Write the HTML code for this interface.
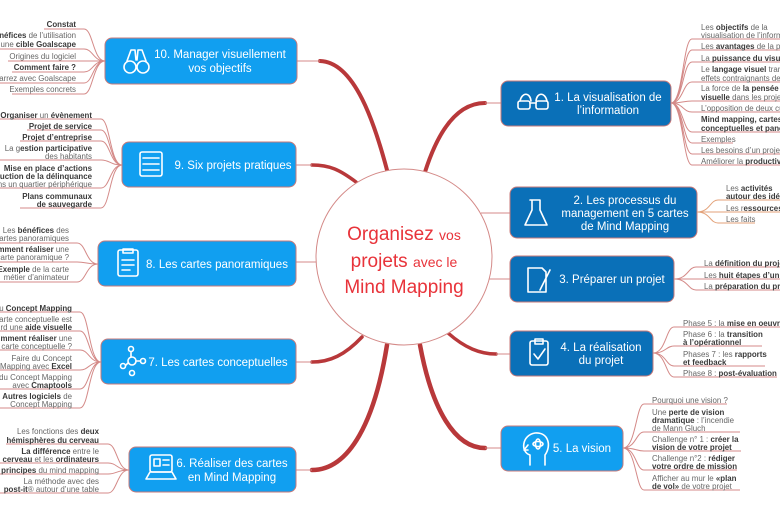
<!DOCTYPE html>
<html><head><meta charset="utf-8"><style>
html,body{margin:0;padding:0;background:#fff;width:780px;height:516px;overflow:hidden}
svg{display:block;font-family:"Liberation Sans",sans-serif}
.l{font-size:7.9px;fill:#666}
.l tspan.b{font-weight:bold;fill:#3a3a3a}
.r{text-anchor:end}
.nt{font-size:11.5px;fill:#fff;text-anchor:middle}
.ln{fill:none;stroke:#d48a88;stroke-width:1}
.th{fill:none;stroke:#b8383a;stroke-linecap:round}
.ic{fill:none;stroke:#fff;stroke-width:1.6;stroke-linecap:round;stroke-linejoin:round}
</style></head><body>
<svg width="780" height="516" viewBox="0 0 780 516">
<!-- main branches -->
<path class="th" stroke-width="4" d="M387,170 C375,125 355,62 320,61"/><path class="ln" d="M320,61 H297"/>
<path class="th" stroke-width="3.5" d="M356,182 C340,170 330,165 312,165"/><path class="ln" d="M312,165 H296"/>
<path class="ln" d="M316,262 H296"/>
<path class="th" stroke-width="3.5" d="M362,337 C345,355 330,362 312,362"/><path class="ln" d="M312,362 H296"/>
<path class="th" stroke-width="4.5" d="M387,345 C375,420 350,470 312,470"/><path class="ln" d="M312,470 H296"/>
<path class="th" stroke-width="4" d="M425,172 C440,125 460,103 485,103"/><path class="ln" d="M485,103 H501"/>
<path class="ln" d="M481,213 H510"/>
<path class="ln" d="M488,279 H510"/>
<path class="th" stroke-width="3.5" d="M448,333 C465,348 480,354 496,354"/><path class="ln" d="M496,354 H510"/>
<path class="th" stroke-width="4.5" d="M420,345 C432,410 455,448 485,448"/><path class="ln" d="M485,448 H501"/>
<!-- center -->
<circle cx="404" cy="257" r="88" fill="#fff" stroke="#d48a88" stroke-width="1"/>
<g fill="#e8333a" text-anchor="middle" font-family="Liberation Sans,sans-serif">
<text x="404" y="240" font-size="19">Organisez <tspan font-size="14">vos</tspan></text>
<text x="404" y="267" font-size="19">projets <tspan font-size="14">avec le</tspan></text>
<text x="404" y="293" font-size="19">Mind Mapping</text>
</g>
<!-- nodes -->
<rect x="105" y="38" width="192" height="46" rx="7" fill="#119ff0" stroke="#c87a7a"/>
<rect x="122" y="142" width="174" height="45" rx="7" fill="#119ff0" stroke="#c87a7a"/>
<rect x="98" y="241" width="198" height="45" rx="7" fill="#119ff0" stroke="#c87a7a"/>
<rect x="101" y="339" width="195" height="45" rx="7" fill="#119ff0" stroke="#c87a7a"/>
<rect x="129" y="447" width="167" height="45" rx="7" fill="#119ff0" stroke="#c87a7a"/>
<rect x="501" y="81" width="170" height="45" rx="7" fill="#0a70b8" stroke="#c87a7a"/>
<rect x="510" y="187" width="187" height="51" rx="7" fill="#0a70b8" stroke="#c87a7a"/>
<rect x="510" y="256" width="164" height="46" rx="7" fill="#0a70b8" stroke="#c87a7a"/>
<rect x="510" y="331" width="143" height="45" rx="7" fill="#0a70b8" stroke="#c87a7a"/>
<rect x="501" y="426" width="122" height="45" rx="7" fill="#119ff0" stroke="#c87a7a"/>
<text class="nt" x="220" y="58">10. Manager visuellement</text><text class="nt" x="220" y="72">vos objectifs</text>
<text class="nt" x="233" y="169">9. Six projets pratiques</text>
<text class="nt" x="217" y="268">8. Les cartes panoramiques</text>
<text class="nt" x="218" y="366">7. Les cartes conceptuelles</text>
<text class="nt" x="232" y="467">6. Réaliser des cartes</text><text class="nt" x="232" y="481">en Mind Mapping</text>
<text class="nt" x="608" y="101">1. La visualisation de</text><text class="nt" x="608" y="114">l’information</text>
<text class="nt" x="625" y="204">2. Les processus du</text><text class="nt" x="625" y="217">management en 5 cartes</text><text class="nt" x="625" y="230">de Mind Mapping</text>
<text class="nt" x="612" y="283">3. Préparer un projet</text>
<text class="nt" x="601" y="351">4. La réalisation</text><text class="nt" x="601" y="364">du projet</text>
<text class="nt" x="582" y="452">5. La vision</text>
<!-- icons -->
<g class="ic">
<circle cx="130" cy="67" r="6"/><circle cx="143" cy="67" r="6"/><path d="M127,61 L131,50 H135 L136,60 M146,61 L142,50 H138 L137,60"/>
<rect x="140" y="152" width="22" height="24" rx="2"/><path d="M143,158 H159 M143,164 H159 M143,170 H159"/>
<rect x="118" y="250" width="20" height="26" rx="2"/><path d="M123,249 H133 V253 H123Z M122,260 H134 M122,265 H134 M122,270 H130"/>
<circle cx="132" cy="361" r="4"/><circle cx="131" cy="349" r="2.5"/><circle cx="143" cy="361" r="2.5"/><circle cx="123" cy="366" r="2.5"/><circle cx="132" cy="373" r="2.5"/><path d="M131,352 V357 M136,361 H140 M126,365 L128,363"/>
<rect x="150" y="455" width="22" height="17" rx="2"/><path d="M146,479 H176 L172,472 H150Z M154,459 H160 V466 H154Z M163,460 H169 M163,465 H169"/>
<path d="M520,101 C522,92 530,92 531,101 M536,101 C537,92 545,92 547,101"/><rect x="518" y="101" width="12" height="8" rx="2"/><rect x="536" y="101" width="12" height="8" rx="2"/><path d="M530,103 H536"/>
<path d="M530,200 H540 M532,200 V210 L525,225 H547 L540,210 V200"/>
<path d="M528,268 H542 L546,272 V292 H528Z M540,290 L550,270"/>
<rect x="530" y="341" width="18" height="24" rx="2"/><path d="M535,339 H543 V344 H535Z M534,354 L538,359 L545,349"/>
<path d="M530,465 V455 C520,452 522,435 535,433 C548,432 552,445 545,455 V465 M528,445 L524,450 H528"/><ellipse cx="538" cy="444" rx="5" ry="2.5"/><ellipse cx="538" cy="444" rx="2.5" ry="5"/>
</g>
<!-- node 10 leaves -->
<path class="ln" d="M44,29 H84 C93,29 93,61 105,61 M0,49 H84 C93,49 93,61 105,61 M8,61 H105 M12,72 H84 C93,72 93,61 105,61 M0,83 H84 C93,83 93,61 105,61 M12,94 H84 C93,94 93,61 105,61"/>
<text class="l r" x="76" y="27"><tspan class="b">Constat</tspan></text>
<text class="l r" x="76" y="38"><tspan class="b">néfices</tspan> de l’utilisation</text>
<text class="l r" x="76" y="47">d’une <tspan class="b">cible Goalscape</tspan></text>
<text class="l r" x="76" y="59">Origines du logiciel</text>
<text class="l r" x="76" y="70"><tspan class="b">Comment faire ?</tspan></text>
<text class="l r" x="76" y="81">marrez avec Goalscape</text>
<text class="l r" x="76" y="92">Exemples concrets</text>
<!-- node 9 -->
<path class="ln" d="M0,119 H101 C110,119 110,165 122,165 M27,130 H101 C110,130 110,165 122,165 M20,141 H101 C110,141 110,165 122,165 M0,160 H101 C110,160 110,165 122,165 M0,188 H101 C110,188 110,165 122,165 M20,208 H101 C110,208 110,165 122,165"/>
<text class="l r" x="92" y="118"><tspan class="b">Organiser</tspan> un <tspan class="b">évènement</tspan></text>
<text class="l r" x="92" y="129"><tspan class="b">Projet de service</tspan></text>
<text class="l r" x="92" y="140"><tspan class="b">Projet d’entreprise</tspan></text>
<text class="l r" x="92" y="151">La g<tspan class="b">estion participative</tspan></text>
<text class="l r" x="92" y="159">des habitants</text>
<text class="l r" x="92" y="171"><tspan class="b">Mise en place d’actions</tspan></text>
<text class="l r" x="92" y="179"><tspan class="b">uction de la délinquance</tspan></text>
<text class="l r" x="92" y="187">ns un quartier périphérique</text>
<text class="l r" x="92" y="199"><tspan class="b">Plans communaux</tspan></text>
<text class="l r" x="92" y="207"><tspan class="b">de sauvegarde</tspan></text>
<!-- node 8 -->
<path class="ln" d="M0,243 H77 C86,243 86,264 98,264 M0,262 H77 C86,262 86,264 98,264 M0,282 H77 C86,282 86,264 98,264"/>
<text class="l r" x="69" y="233">Les <tspan class="b">bénéfices</tspan> des</text>
<text class="l r" x="69" y="241">cartes panoramiques</text>
<text class="l r" x="69" y="252"><tspan class="b">mment réaliser</tspan> une</text>
<text class="l r" x="69" y="260">carte panoramique ?</text>
<text class="l r" x="69" y="272"><tspan class="b">Exemple</tspan> de la carte</text>
<text class="l r" x="69" y="280">métier d’animateur</text>
<!-- node 7 -->
<path class="ln" d="M0,312 H80 C89,312 89,362 101,362 M0,331 H80 C89,331 89,362 101,362 M0,350 H80 C89,350 89,362 101,362 M0,370 H80 C89,370 89,362 101,362 M0,389 H80 C89,389 89,362 101,362 M0,408 H80 C89,408 89,362 101,362"/>
<text class="l r" x="72" y="311">u <tspan class="b">Concept Mapping</tspan></text>
<text class="l r" x="72" y="322">carte conceptuelle est</text>
<text class="l r" x="72" y="330">rd une <tspan class="b">aide visuelle</tspan></text>
<text class="l r" x="72" y="341"><tspan class="b">mment réaliser</tspan> une</text>
<text class="l r" x="72" y="349">carte conceptuelle ?</text>
<text class="l r" x="72" y="361">Faire du Concept</text>
<text class="l r" x="72" y="369">Mapping avec <tspan class="b">Excel</tspan></text>
<text class="l r" x="72" y="380">du Concept Mapping</text>
<text class="l r" x="72" y="388">avec <tspan class="b">Cmaptools</tspan></text>
<text class="l r" x="72" y="399"><tspan class="b">Autres logiciels</tspan> de</text>
<text class="l r" x="72" y="407">Concept Mapping</text>
<!-- node 6 -->
<path class="ln" d="M6,444 H108 C117,444 117,470 129,470 M0,463 H108 C117,463 117,470 129,470 M0,474 H108 C117,474 117,470 129,470 M0,493 H108 C117,493 117,470 129,470"/>
<text class="l r" x="99" y="434">Les fonctions des <tspan class="b">deux</tspan></text>
<text class="l r" x="99" y="443"><tspan class="b">hémisphères du cerveau</tspan></text>
<text class="l r" x="99" y="454"><tspan class="b">La différence</tspan> entre le</text>
<text class="l r" x="99" y="462"><tspan class="b">cerveau</tspan> et les <tspan class="b">ordinateurs</tspan></text>
<text class="l r" x="99" y="473"><tspan class="b">principes</tspan> du mind mapping</text>
<text class="l r" x="99" y="484">La méthode avec des</text>
<text class="l r" x="99" y="492"><tspan class="b">post-it</tspan>® autour d’une table</text>
<!-- node 1 -->
<path class="ln" d="M671,103 C683,103 683,39 692,39 H780 M671,103 C683,103 683,50 692,50 H780 M671,103 C683,103 683,62 692,62 H780 M671,103 C683,103 683,82 692,82 H780 M671,103 C683,103 683,101 692,101 H780 M671,103 C683,103 683,112 692,112 H780 M671,103 C683,103 683,132 692,132 H780 M671,103 C683,103 683,143 692,143 H733 M671,103 C683,103 683,154 692,154 H780 M671,103 C683,103 683,165 692,165 H780"/>
<text class="l" x="701" y="30">Les <tspan class="b">objectifs</tspan> de la</text>
<text class="l" x="701" y="38">visualisation de l’information</text>
<text class="l" x="701" y="49">Les <tspan class="b">avantages</tspan> de la pensée</text>
<text class="l" x="701" y="61">La <tspan class="b">puissance du visuel</tspan></text>
<text class="l" x="701" y="72">Le <tspan class="b">langage visuel</tspan> transforme</text>
<text class="l" x="701" y="81">effets contraignants de</text>
<text class="l" x="701" y="91">La force de <tspan class="b">la pensée</tspan></text>
<text class="l" x="701" y="100"><tspan class="b">visuelle</tspan> dans les projets</text>
<text class="l" x="701" y="111">L’opposition de deux cultures</text>
<text class="l" x="701" y="122"><tspan class="b">Mind mapping, cartes</tspan></text>
<text class="l" x="701" y="131"><tspan class="b">conceptuelles et panoramiques</tspan></text>
<text class="l" x="701" y="142">Exemples</text>
<text class="l" x="701" y="153">Les besoins d’un projet</text>
<text class="l" x="701" y="164">Améliorer la <tspan class="b">productivité</tspan></text>
<!-- node 2 -->
<path class="ln" style="stroke:#e3a27a" d="M697,212 C710,212 710,200 718,200 H780 M697,212 H780 M697,212 C710,212 710,223 718,223 H755"/>
<text class="l" x="726" y="191">Les <tspan class="b">activités</tspan></text>
<text class="l" x="726" y="199"><tspan class="b">autour des idées</tspan></text>
<text class="l" x="726" y="211">Les r<tspan class="b">essources</tspan></text>
<text class="l" x="726" y="222">Les faits</text>
<!-- node 3 -->
<path class="ln" d="M674,279 C688,279 688,267 696,267 H780 M674,279 H780 M674,279 C688,279 688,290 696,290 H780"/>
<text class="l" x="704" y="266">La <tspan class="b">définition du projet</tspan></text>
<text class="l" x="704" y="278">Les <tspan class="b">huit étapes d’un projet</tspan></text>
<text class="l" x="704" y="289">La <tspan class="b">préparation du projet</tspan></text>
<!-- node 4 -->
<path class="ln" d="M653,353 C666,353 666,327 674,327 H780 M653,353 C666,353 666,346 674,346 H762 M653,353 C666,353 666,366 674,366 H765 M653,353 C666,353 666,377 674,377 H777"/>
<text class="l" x="683" y="326">Phase 5 : la <tspan class="b">mise en oeuvre</tspan></text>
<text class="l" x="683" y="337">Phase 6 : la <tspan class="b">transition</tspan></text>
<text class="l" x="683" y="345"><tspan class="b">à l’opérationnel</tspan></text>
<text class="l" x="683" y="357">Phases 7 : les <tspan class="b">rapports</tspan></text>
<text class="l" x="683" y="365"><tspan class="b">et feedback</tspan></text>
<text class="l" x="683" y="376">Phase 8 : <tspan class="b">post-évaluation</tspan></text>
<!-- node 5 -->
<path class="ln" d="M623,448 C636,448 636,404 644,404 H727 M623,448 C636,448 636,432 644,432 H740 M623,448 C636,448 636,451 644,451 H741 M623,448 C636,448 636,470 644,470 H737 M623,448 C636,448 636,490 644,490 H740"/>
<text class="l" x="652" y="403">Pourquoi une vision ?</text>
<text class="l" x="652" y="415">Une <tspan class="b">perte de vision</tspan></text>
<text class="l" x="652" y="423"><tspan class="b">dramatique</tspan> : l’incendie</text>
<text class="l" x="652" y="431">de Mann Gluch</text>
<text class="l" x="652" y="442">Challenge n° 1 : <tspan class="b">créer la</tspan></text>
<text class="l" x="652" y="450"><tspan class="b">vision de votre projet</tspan></text>
<text class="l" x="652" y="461">Challenge n°2 : <tspan class="b">rédiger</tspan></text>
<text class="l" x="652" y="469"><tspan class="b">votre ordre de mission</tspan></text>
<text class="l" x="652" y="481">Afficher au mur le <tspan class="b">«plan</tspan></text>
<text class="l" x="652" y="489"><tspan class="b">de vol»</tspan> de votre projet</text>
</svg>
</body></html>
